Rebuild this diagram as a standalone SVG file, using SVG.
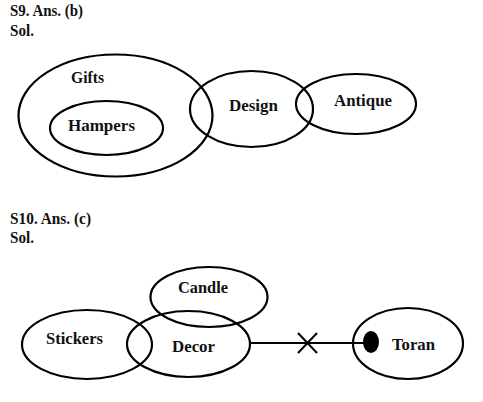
<svg xmlns="http://www.w3.org/2000/svg" width="483" height="402" viewBox="0 0 483 402">
<style>
text{font-family:"Liberation Serif","DejaVu Serif",serif;font-weight:bold;font-size:17px;fill:#111}
.e{fill:none;stroke:#000;stroke-width:2.2}
.c{stroke:#000;stroke-width:2;fill:none}
</style>
<rect width="483" height="402" fill="#fff"/>
<text x="10" y="16" textLength="73" lengthAdjust="spacingAndGlyphs">S9. Ans. (b)</text>
<text x="10" y="36" textLength="24" lengthAdjust="spacingAndGlyphs">Sol.</text>
<g id="gifts"><ellipse class="e" cx="115.5" cy="115.5" rx="97" ry="61"/><text x="71" y="83" textLength="33" lengthAdjust="spacingAndGlyphs">Gifts</text></g>
<g id="hampers"><ellipse class="e" cx="106.5" cy="128" rx="56.5" ry="27"/><text x="68" y="131" textLength="67" lengthAdjust="spacingAndGlyphs">Hampers</text></g>
<g id="design"><ellipse class="e" cx="251.5" cy="109" rx="61.5" ry="38"/><text x="229" y="111" textLength="49" lengthAdjust="spacingAndGlyphs">Design</text></g>
<g id="antique"><ellipse class="e" cx="356" cy="104" rx="60" ry="30"/><text x="334" y="106" textLength="58" lengthAdjust="spacingAndGlyphs">Antique</text></g>
<text x="10" y="224" textLength="81" lengthAdjust="spacingAndGlyphs">S10. Ans. (c)</text>
<text x="10" y="243" textLength="24" lengthAdjust="spacingAndGlyphs">Sol.</text>
<g id="candle"><ellipse class="e" cx="209" cy="297" rx="58.5" ry="30"/><text x="178" y="293" textLength="50" lengthAdjust="spacingAndGlyphs">Candle</text></g>
<g id="stickers"><ellipse class="e" cx="87" cy="344.5" rx="65" ry="34.5"/><text x="46" y="344" textLength="57" lengthAdjust="spacingAndGlyphs">Stickers</text></g>
<g id="decor"><ellipse class="e" cx="188.5" cy="344" rx="61.5" ry="33"/><text x="172" y="352" textLength="43" lengthAdjust="spacingAndGlyphs">Decor</text></g>
<g id="toran"><ellipse class="e" cx="408" cy="343.5" rx="55" ry="35.5"/><text x="392" y="350" textLength="43" lengthAdjust="spacingAndGlyphs">Toran</text></g>
<g id="connectors">
<line class="c" x1="250" y1="343" x2="366" y2="343"/>
<line class="c" x1="298" y1="333" x2="317" y2="353"/>
<line class="c" x1="298" y1="353" x2="317" y2="333"/>
<ellipse cx="371" cy="342" rx="8" ry="11" fill="#000"/>
</g>
</svg>
